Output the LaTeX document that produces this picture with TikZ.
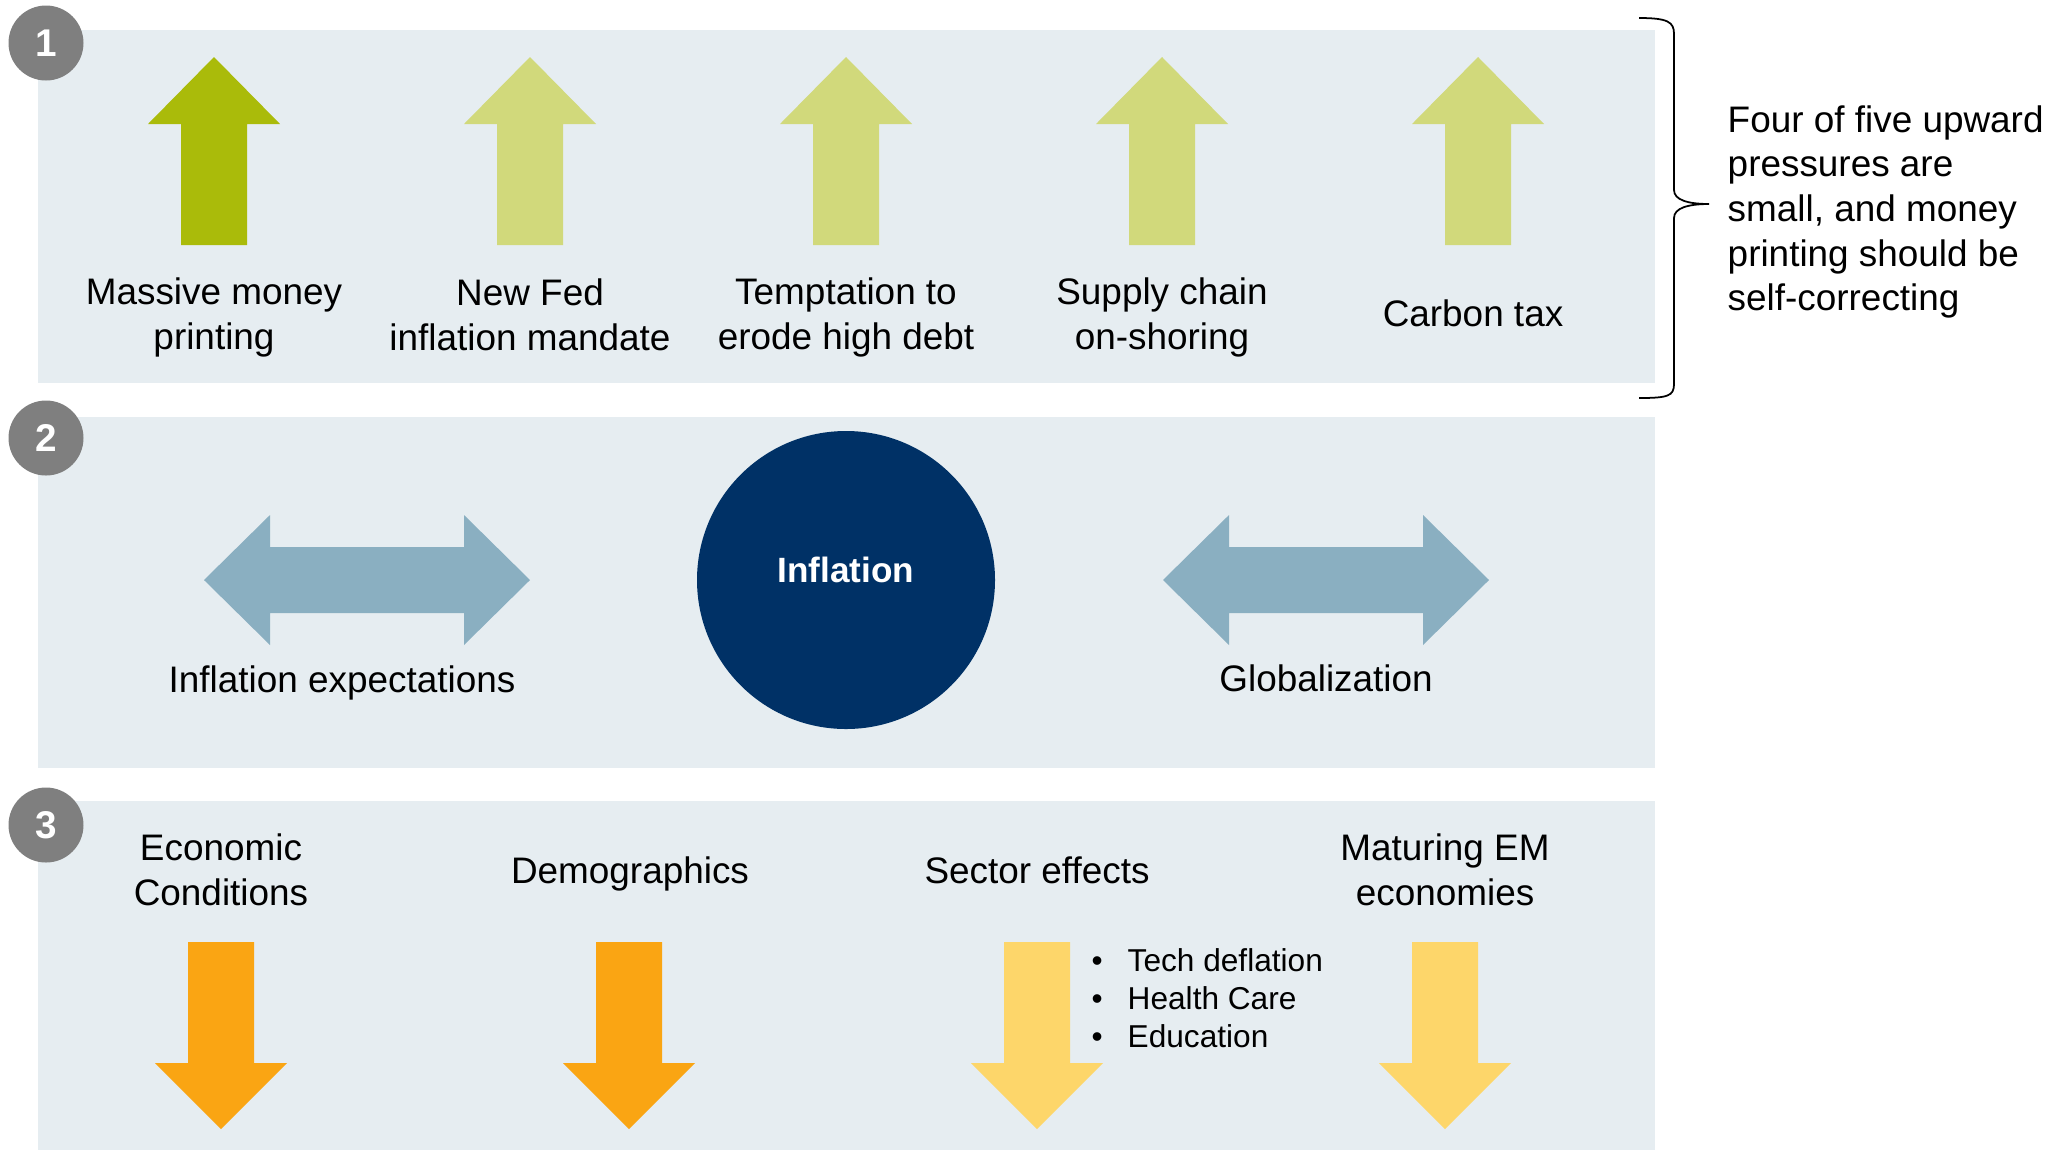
\documentclass[tikz,border=0pt]{standalone}
\usepackage{fontspec}
\setmainfont{Liberation Sans}
\definecolor{pnlbg}{RGB}{230,237,241}
\definecolor{numgray}{RGB}{127,127,127}
\definecolor{dkgreen}{RGB}{170,187,10}
\definecolor{ltgreen}{RGB}{209,217,123}
\definecolor{steel}{RGB}{138,175,193}
\definecolor{navy}{RGB}{0,49,102}
\definecolor{dkorange}{RGB}{250,165,19}
\definecolor{ltyellow}{RGB}{253,214,106}
\tikzset{
  pnl/.style={fill=pnlbg},
  num/.style={circle, fill=numgray, minimum size=7.5mm, inner sep=0pt, text=white, font=\fontsize{11}{13}\selectfont\bfseries},
  lbl/.style={align=center, inner sep=0pt, font=\fontsize{10.5}{12.8}\selectfont},
  hub/.style={circle, fill=navy, minimum size=29.8mm, inner sep=0pt},
  hubtxt/.style={text=white, inner sep=0pt, font=\fontsize{10}{12}\selectfont\bfseries},
  note/.style={align=left, inner sep=0pt, font=\fontsize{10.5}{12.7}\selectfont},
  bul/.style={align=left, inner sep=0pt, font=\fontsize{9}{10.8}\selectfont},
  brc/.style={line width=0.5pt},
  % block arrows, coordinates in px (y grows downwards)
  uparr/.pic={\fill[pic actions] (0,0) -- (66,67) -- (33,67) -- (33,188) -- (-33,188) -- (-33,67) -- (-66,67) -- cycle;},
  downarr/.pic={\fill[pic actions] (-33,0) -- (33,0) -- (33,121) -- (66,121) -- (0,187) -- (-66,121) -- (-33,121) -- cycle;},
  dblarr/.pic={\fill[pic actions] (-163,0) -- (-97,-65) -- (-97,-33) -- (97,-33) -- (97,-65) -- (163,0) -- (97,65) -- (97,33) -- (-97,33) -- (-97,65) -- cycle;},
}
\newcommand{\bitem}[1]{\makebox[3.6mm][l]{\textbullet}#1}

\begin{document}
\begin{tikzpicture}[x=0.1mm, y=-0.1mm]
\useasboundingbox (0,0) rectangle (2063,1150);

% three bands
\fill[pnl] (38,30) rectangle (1655,383);
\fill[pnl] (38,417) rectangle (1655,768);
\fill[pnl] (38,801) rectangle (1655,1150);

\node[num] (n1) at (46,43) {1};
\node[num] (n2) at (46,438) {2};
\node[num] (n3) at (46,825) {3};

% band 1: upward pressures
\pic[fill=dkgreen] at (214,57) {uparr};
\pic[fill=ltgreen] at (530,57) {uparr};
\pic[fill=ltgreen] at (846,57) {uparr};
\pic[fill=ltgreen] at (1162,57) {uparr};
\pic[fill=ltgreen] at (1478,57) {uparr};

\node[lbl] (money) at (214,317) {Massive money\\printing};
\node[lbl] (fed) at (530,315) {New Fed\\inflation mandate};
\node[lbl] (debt) at (846,317) {Temptation to\\erode high debt};
\node[lbl] (supply) at (1162,317) {Supply chain\\on-shoring};
\node[lbl] (carbon) at (1473,313) {Carbon tax};

% brace and comment
\coordinate (brtop) at (1639,18);
\coordinate (brtip) at (1709,204);
\coordinate (brbot) at (1639,398);
\draw[brc] (brtop) .. controls (1668,18) and (1674,22) .. (1674,34) -- (1674,190)
  .. controls (1674,200) and (1688,204) .. (brtip)
  .. controls (1688,204) and (1674,208) .. (1674,218) -- (1674,384)
  .. controls (1674,396) and (1668,398) .. (brbot);
\node[note, anchor=west] (summary) at (1727,212) {Four of five upward\\pressures are\\small, and money\\printing should be\\self-correcting};

% band 2: two-way factors
\pic[fill=steel] at (367,580) {dblarr};
\pic[fill=steel] at (1326,580) {dblarr};
\node[hub] (infl) at (846,580) {};
\node[hubtxt] (infltxt) at (846,570) {Inflation};
\node[lbl] (expect) at (342,683) {Inflation expectations};
\node[lbl] (glob) at (1326,678) {Globalization};

% band 3: downward pressures
\node[lbl] (econ) at (221,870) {Economic\\Conditions};
\node[lbl] (demo) at (630,874) {Demographics};
\node[lbl] (sector) at (1037,870) {Sector effects};
\node[lbl] (em) at (1445,870) {Maturing EM\\economies};

\pic[fill=dkorange] at (221,942) {downarr};
\pic[fill=dkorange] at (629,942) {downarr};
\pic[fill=ltyellow] at (1037,942) {downarr};
\pic[fill=ltyellow] at (1445,942) {downarr};

\node[bul, anchor=west] (sectlist) at (1091,998) {\bitem{Tech deflation}\\\bitem{Health Care}\\\bitem{Education}};

\end{tikzpicture}
\end{document}
